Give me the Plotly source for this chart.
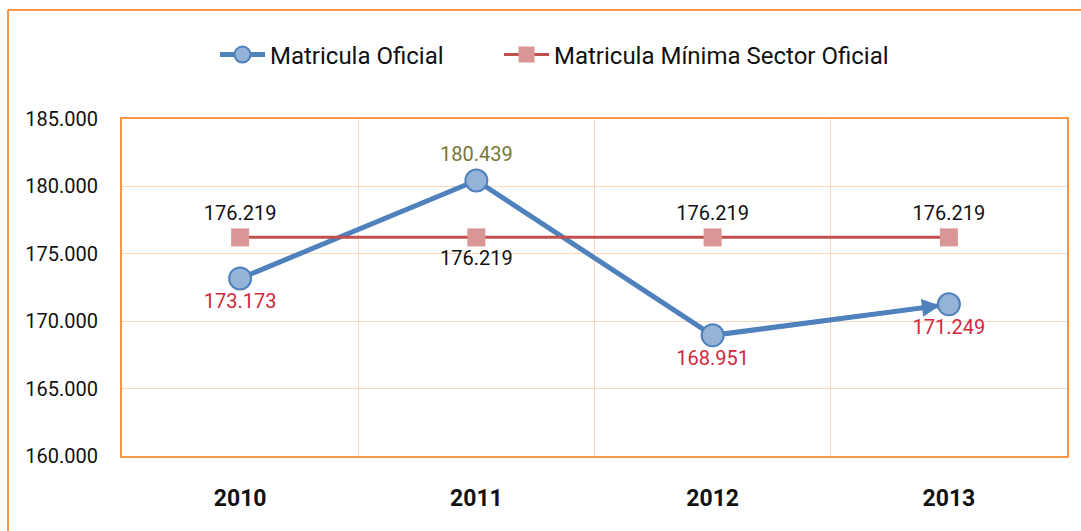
import plotly.graph_objects as go

years = ["2010", "2011", "2012", "2013"]
matricula_oficial = [173173, 180439, 168951, 171249]
matricula_minima = [176219, 176219, 176219, 176219]
y_ticks = [160000, 165000, 170000, 175000, 180000, 185000]

FONT = "Liberation Sans Narrow, Arial Narrow, Roboto, sans-serif"
ORANGE = "#F79646"
GRID = "#FCD9BC"
BLUE = "#4F81BD"
BLUE_FILL = "#95B3D7"
RED_LINE = "#C0504D"
RED_MARK = "#D99694"
LBL_RED = "#D0283C"
LBL_OLIVE = "#77773A"


def fmt(v):
    return f"{v:,}".replace(",", ".")


blue_pos = ["bottom center", "top center", "bottom center", "bottom center"]
blue_col = [LBL_RED, LBL_OLIVE, LBL_RED, LBL_RED]
red_pos = ["top center", "bottom center", "top center", "top center"]

fig = go.Figure()
fig.add_trace(go.Scatter(
    x=years, y=matricula_oficial, name="Matricula Oficial",
    mode="lines+markers+text", legend="legend",
    line=dict(color=BLUE, width=5),
    marker=dict(symbol="circle", size=22, color=BLUE_FILL, line=dict(color=BLUE, width=2)),
    text=[fmt(v) for v in matricula_oficial],
    textposition=blue_pos,
    textfont=dict(family=FONT, size=20, color=blue_col),
))
fig.add_trace(go.Scatter(
    x=years, y=matricula_minima, name="Matricula Mínima Sector Oficial",
    mode="lines+markers+text", legend="legend2",
    line=dict(color=RED_LINE, width=3),
    marker=dict(symbol="square", size=18, color=RED_MARK),
    text=[fmt(v) for v in matricula_minima],
    textposition=red_pos,
    textfont=dict(family=FONT, size=20, color="#111111"),
))

# arrowhead at the end of the blue line
fig.add_annotation(
    x=3, y=matricula_oficial[3], ax=2, ay=matricula_oficial[2],
    xref="x", yref="y", axref="x", ayref="y",
    showarrow=True, arrowhead=2, arrowsize=0.9, arrowwidth=4,
    arrowcolor=BLUE, standoff=9, startstandoff=12, text="",
)

# outer frame (top and left)
fig.add_shape(type="line", xref="paper", yref="paper",
              x0=(8 - 122) / 945, x1=(1081 - 122) / 945,
              y0=(456 - 10) / 337, y1=(456 - 10) / 337,
              line=dict(color=ORANGE, width=2))
fig.add_shape(type="line", xref="paper", yref="paper",
              x0=(8 - 122) / 945, x1=(8 - 122) / 945,
              y0=(456 - 10) / 337, y1=(456 - 531) / 337,
              line=dict(color=ORANGE, width=2))

legend_common = dict(orientation="h", xanchor="left",
                     y=(456 - 55) / 337, yanchor="middle",
                     bgcolor="rgba(0,0,0,0)",
                     font=dict(family=FONT, size=24, color="#111111"),
                     itemwidth=45)

fig.update_layout(
    width=1081, height=531,
    margin=dict(l=122, r=14, t=119, b=75, autoexpand=False),
    paper_bgcolor="white", plot_bgcolor="white",
    separators=",.",
    font=dict(family=FONT, size=19, color="#111111"),
    showlegend=True,
    legend=dict(x=(215 - 122) / 945, **legend_common),
    legend2=dict(x=(499 - 122) / 945, **legend_common),
    xaxis=dict(
        type="category", categoryorder="array", categoryarray=years,
        showgrid=True, gridcolor=GRID, gridwidth=1, tickson="boundaries",
        ticks="", showline=True, linecolor=ORANGE, linewidth=2, mirror=True,
        tickfont=dict(family=FONT, size=23, color="#111111", weight="bold"),
        ticklabelstandoff=20, automargin=False,
        range=[-0.5, 3.5],
    ),
    yaxis=dict(
        range=[160000, 185000], tickvals=y_ticks,
        tickformat=",d", showgrid=True, gridcolor=GRID, gridwidth=1,
        ticks="", showline=True, linecolor=ORANGE, linewidth=2, mirror=True,
        zeroline=False, automargin=False,
        tickfont=dict(family=FONT, size=20, color="#111111"),
        ticklabelstandoff=18,
    ),
)

fig.write_html("out.html", config={"displayModeBar": False},
               post_script="document.body.style.margin='0';")
